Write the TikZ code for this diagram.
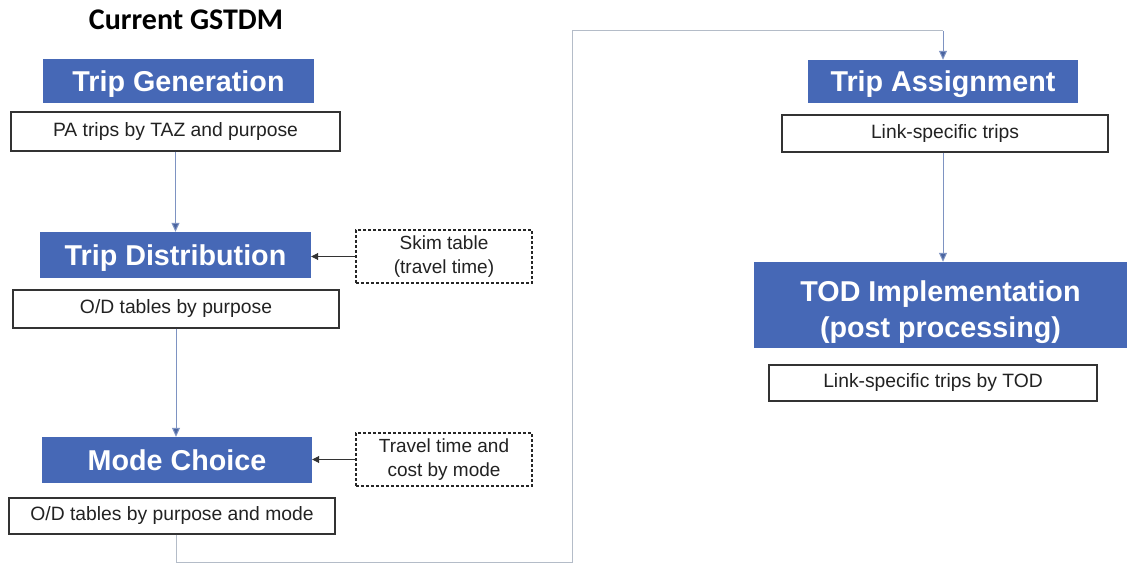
\documentclass[tikz,border=0pt]{standalone}
\usepackage{fontspec}
\setmainfont{Liberation Sans}
\newfontfamily\titlefont{Carlito}
\usetikzlibrary{arrows.meta}
\definecolor{hdrblue}{HTML}{4668B6}
\definecolor{linkblue}{HTML}{7E93C2}
\definecolor{retgray}{HTML}{B4BCC8}
\definecolor{tipblue}{HTML}{4A64A0}
\definecolor{txt}{HTML}{222222}
\begin{document}
\begin{tikzpicture}[x=1pt,y=-1pt,
  hdr/.style={fill=hdrblue, draw=none, text=white, inner sep=0pt, align=center,
    font=\fontsize{28.7}{36}\selectfont\bfseries},
  hdrone/.style={hdr, text height=20.5pt, text depth=0pt},
  outbox/.style={draw=black!80, line width=1.4pt, fill=white, text=txt, inner sep=0pt,
    font=\fontsize{19.3}{22}\selectfont},
  inbox/.style={draw=black!85, line width=1.1pt, dash pattern=on 3pt off 2pt, fill=white,
    text=txt, inner sep=0pt, align=center, font=\fontsize{19}{24}\selectfont},
  flow/.style={draw=linkblue, line width=1pt, -{Triangle[width=8pt,length=9pt,fill=tipblue]}},
  feed/.style={draw=black!80, line width=0.9pt, -{Triangle[width=7pt,length=7pt]}},
  ret/.style={draw=retgray, line width=1pt}]
\useasboundingbox (0,0) rectangle (1127,564);

\node[font=\titlefont\fontsize{30}{34}\selectfont\bfseries, text=black] (title) at (186,20) {Current GSTDM};

\node[hdrone, minimum width=271pt, minimum height=44pt] (tg) at (178.5,81) {Trip Generation};
\node[outbox, minimum width=329pt, minimum height=39pt] (pa) at (175.5,131.5) {PA trips by TAZ and purpose};
\node[hdrone, minimum width=271pt, minimum height=46pt] (td) at (175.5,255) {Trip Distribution};
\node[outbox, minimum width=326pt, minimum height=38pt] (od1) at (176,309) {O/D tables by purpose};
\node[hdrone, minimum width=270pt, minimum height=46pt] (mc) at (177,460) {Mode Choice};
\node[outbox, minimum width=326pt, minimum height=36pt] (od2) at (172,516) {O/D tables by purpose and mode};

\node[inbox, minimum width=176pt, minimum height=53pt] (skim) at (444,256.5) {Skim table\\(travel time)};
\node[inbox, minimum width=176pt, minimum height=53pt] (tc) at (444,459.5) {Travel time and\\cost by mode};

\node[hdrone, minimum width=270pt, minimum height=43pt] (ta) at (943,81.5) {Trip Assignment};
\node[outbox, minimum width=326pt, minimum height=37pt] (ls) at (945,133.5) {Link-specific trips};
\node[hdr, minimum width=373pt, minimum height=86pt] (tod) at (940.5,305)
  {\raisebox{-7.5pt}[\height][\depth]{\begin{tabular}{@{}c@{}}TOD Implementation\\[0pt](post processing)\end{tabular}}};
\node[outbox, minimum width=328pt, minimum height=36pt] (lst) at (933,383) {Link-specific trips by TOD};

\draw[flow] (pa.south) -- (pa.south |- td.north);
\draw[flow] (od1.south) -- (od1.south |- mc.north);
\draw[feed] (skim.west) -- (skim.west -| td.east);
\draw[feed] (tc.west) -- (tc.west -| mc.east);

\coordinate (b1) at (176,562);
\coordinate (b2) at (572,562);
\coordinate (t1) at (572,31);
\draw[ret] (od2.south -| b1) -- (b1) -- (b2) -- (t1) -- (t1 -| ta.north);
\draw[flow] (t1 -| ta.north) -- (ta.north);
\draw[flow] (ls.south -| ta.north) -- (ta.north |- tod.north);
\end{tikzpicture}
\end{document}
